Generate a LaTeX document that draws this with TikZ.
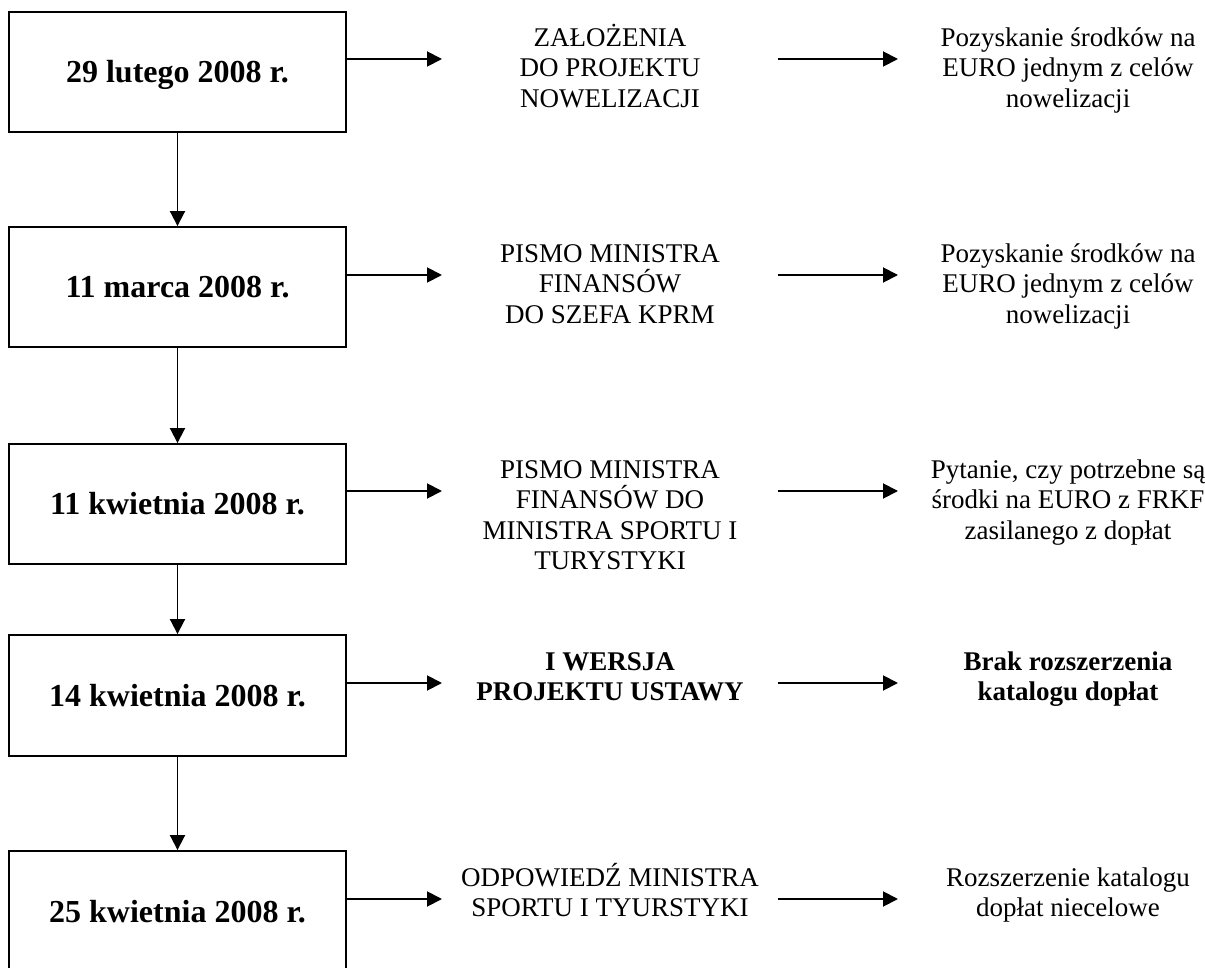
\documentclass[tikz,border=0pt]{standalone}
\usepackage{fontspec}
\setmainfont{Liberation Serif}
\usetikzlibrary{arrows.meta}
\newcommand{\firststrut}{\rule{0pt}{25pt}}
\begin{document}
\begin{tikzpicture}[x=1pt,y=-1pt,
 datebox/.style={draw,line width=1.9pt,minimum width=337pt,minimum height=120pt,inner sep=0pt,
   text height=21pt,text depth=0pt,font=\bfseries\fontsize{32}{36}\selectfont},
 coltext/.style={anchor=north,align=center,inner sep=0pt,font=\fontsize{27}{30.5}\selectfont},
 boldtext/.style={coltext,font=\bfseries\fontsize{27}{30}\selectfont},
 arr/.style={line width=1.9pt,-{Triangle[length=15pt,width=15pt]}}]
\useasboundingbox (0,0) rectangle (1205,968);
\clip (0,0) rectangle (1205,968);

% date boxes
\node[datebox] (b1) at (177.5,72) {29 lutego 2008 r.};
\node[datebox] (b2) at (177.5,287) {11 marca 2008 r.};
\node[datebox] (b3) at (177.5,504) {11 kwietnia 2008 r.};
\node[datebox,minimum height=121pt] (b4) at (177.5,695.5) {14 kwietnia 2008 r.};
\node[datebox,minimum height=122pt] (b5) at (177.5,912) {25 kwietnia 2008 r.};

% middle column
\node[coltext] (m1) at (610,21) {\firststrut ZAŁOŻENIA\\DO PROJEKTU\\NOWELIZACJI};
\node[coltext] (m2) at (610,237) {\firststrut PISMO MINISTRA\\FINANSÓW\\DO SZEFA KPRM};
\node[coltext] (m3) at (610,453) {\firststrut PISMO MINISTRA\\FINANSÓW DO\\MINISTRA SPORTU I\\TURYSTYKI};
\node[boldtext] (m4) at (610,645) {\firststrut I WERSJA\\PROJEKTU USTAWY};
\node[coltext] (m5) at (610,861) {\firststrut ODPOWIEDŹ MINISTRA\\SPORTU I TYURSTYKI};

% right column
\node[coltext] (r1) at (1068,21) {\firststrut Pozyskanie środków na\\EURO jednym z celów\\nowelizacji};
\node[coltext] (r2) at (1068,237) {\firststrut Pozyskanie środków na\\EURO jednym z celów\\nowelizacji};
\node[coltext] (r3) at (1068,453) {\firststrut Pytanie, czy potrzebne są\\środki na EURO z FRKF\\zasilanego z dopłat};
\node[boldtext] (r4) at (1068,645) {\firststrut Brak rozszerzenia\\katalogu dopłat};
\node[coltext] (r5) at (1068,861) {\firststrut Rozszerzenie katalogu\\dopłat niecelowe};

% arrow end points
\coordinate (m1in) at (442,59);
\coordinate (m2in) at (442,275);
\coordinate (m3in) at (442,491);
\coordinate (m4in) at (442,683);
\coordinate (m5in) at (442,899);
\coordinate (m1out) at (778,59);
\coordinate (m2out) at (778,275);
\coordinate (m3out) at (778,491);
\coordinate (m4out) at (778,683);
\coordinate (m5out) at (778,899);
\coordinate (r1in) at (898,59);
\coordinate (r2in) at (898,275);
\coordinate (r3in) at (898,491);
\coordinate (r4in) at (898,683);
\coordinate (r5in) at (898,899);

% vertical arrows
\draw[arr] (b1.south) -- (b2.north);
\draw[arr] (b2.south) -- (b3.north);
\draw[arr] (b3.south) -- (b4.north);
\draw[arr] (b4.south) -- (b5.north);

% horizontal arrows
\foreach \i in {1,...,5}{
  \draw[arr] (b\i.east |- m\i in) -- (m\i in);
  \draw[arr] (m\i out) -- (r\i in);
}
\end{tikzpicture}
\end{document}
